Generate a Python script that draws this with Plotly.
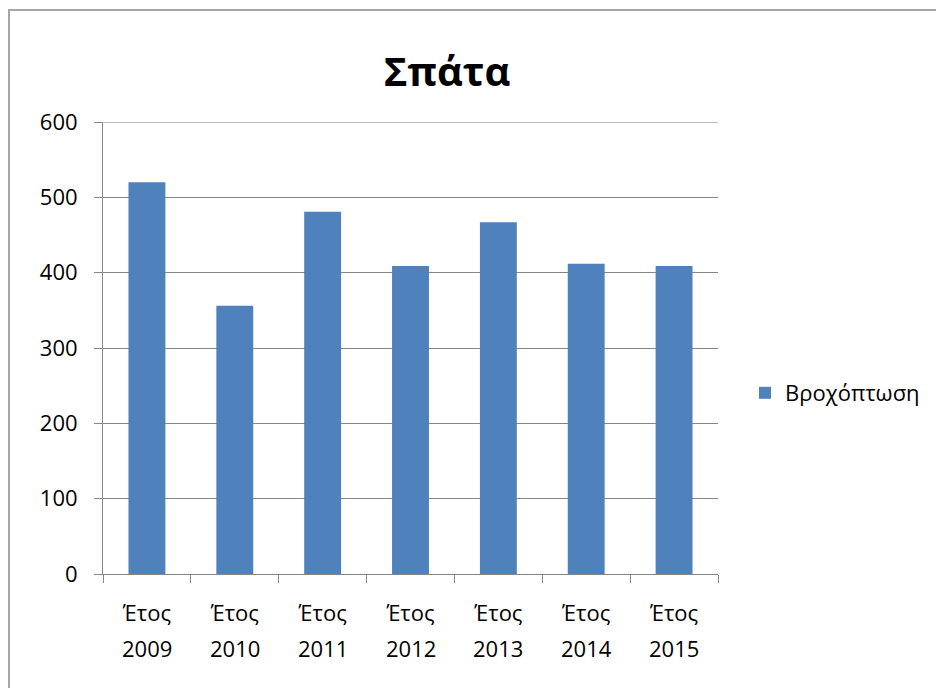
import plotly.graph_objects as go

years = ["2009", "2010", "2011", "2012", "2013", "2014", "2015"]
prefix = "Έτος"
rainfall = [520, 356, 481, 409, 467, 412, 409]
series_name = "Βροχόπτωση"
title = "Σπάτα"
y_ticks = [0, 100, 200, 300, 400, 500, 600]

categories = [prefix + " " + y for y in years]

FONT = "Open Sans"
FS = 22
W, H = 936, 688
L, R, T, B = 103, 218, 122, 114
PW = W - L - R
PH = H - T - B

fig = go.Figure()
fig.add_trace(go.Bar(
    x=categories, y=rainfall, name=series_name,
    marker=dict(color="#4F81BD", line=dict(width=0)),
))

annotations = [
    dict(x=c, y=-(648 - (H - B)) / PH, xref="x", yref="paper", text=yr,
         showarrow=False, yanchor="middle", xanchor="center",
         font=dict(family=FONT, size=FS, color="#000000"))
    for c, yr in zip(categories, years)
]

fig.update_layout(
    width=W, height=H,
    margin=dict(l=L, r=R, t=T, b=B, autoexpand=False),
    paper_bgcolor="white", plot_bgcolor="white",
    bargap=0.58,
    title=dict(text="<b>" + title + "</b>", x=447 / W, xref="container", xanchor="center",
               y=1 - 72 / H, yref="container", yanchor="middle",
               font=dict(family=FONT, size=40, color="#000000")),
    xaxis=dict(
        type="category", tickmode="array", tickvals=categories,
        ticktext=[prefix] * len(categories),
        ticks="outside", ticklen=8, tickcolor="#868686", tickwidth=1,
        tickson="boundaries",
        showline=True, linecolor="#868686", linewidth=1,
        showgrid=False,
        ticklabelstandoff=20,
        tickfont=dict(family=FONT, size=FS, color="#000000"),
    ),
    yaxis=dict(
        range=[0, 600], tickvals=y_ticks,
        ticks="outside", ticklen=8, tickcolor="#868686", tickwidth=1,
        showline=True, linecolor="#868686", linewidth=1,
        showgrid=True, gridcolor="#868686", gridwidth=1,
        zeroline=False,
        ticklabelstandoff=12,
        tickfont=dict(family=FONT, size=FS, color="#000000"),
    ),
    legend=dict(x=(745 - L) / PW, y=0.5 - (393 - 348) / PH, xanchor="left", yanchor="middle",
                font=dict(family=FONT, size=FS, color="#000000"),
                bgcolor="rgba(0,0,0,0)"),
    showlegend=True,
    annotations=annotations,
    shapes=[
        dict(type="rect", xref="paper", yref="paper",
             x0=-(L - 9) / PW, x1=(W + 5 - L) / PW,
             y0=-(B + 10) / PH, y1=(H - 10 - B) / PH,
             line=dict(color="#A6A6A6", width=2), layer="below"),
        dict(type="line", xref="paper", yref="y", x0=0, x1=1,
             y0=y_ticks[-1], y1=y_ticks[-1],
             line=dict(color="#868686", width=1), layer="below"),
    ],
)

fig.write_html("out.html")
